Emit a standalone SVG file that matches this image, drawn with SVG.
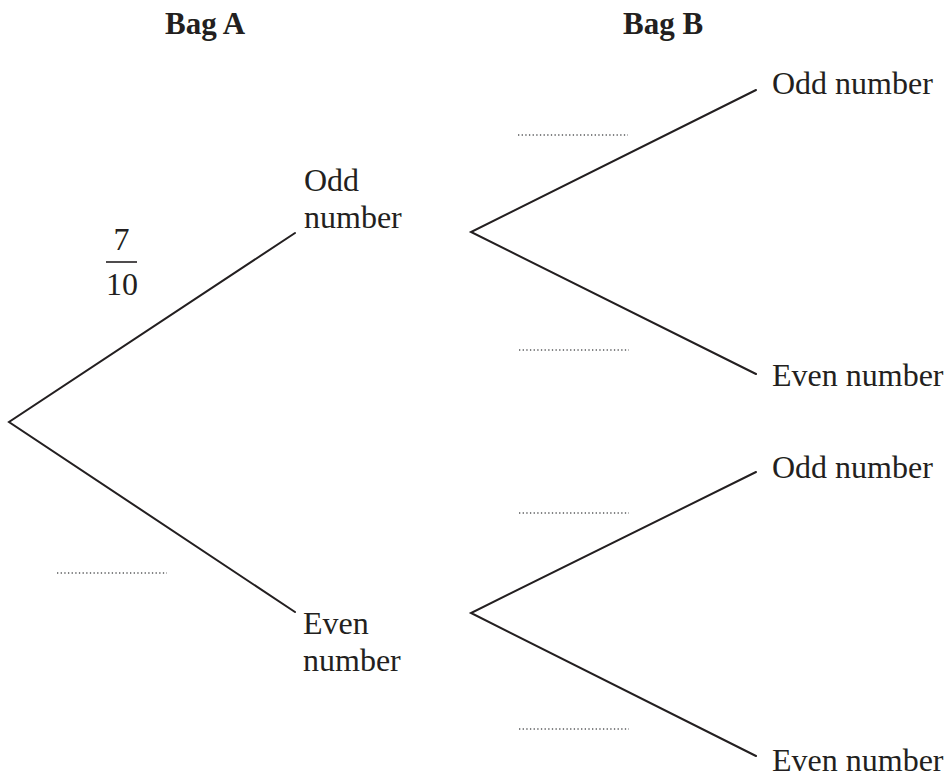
<svg xmlns="http://www.w3.org/2000/svg" width="951" height="780" viewBox="0 0 951 780">
<style>
  .lbl { font-family: "Liberation Serif", "Times New Roman", serif; font-size: 32px; fill: #231f20; }
  .hdr { font-family: "Liberation Serif", "Times New Roman", serif; font-size: 31px; font-weight: bold; fill: #231f20; }
  .br { stroke: #231f20; stroke-width: 2; fill: none; stroke-linecap: round; stroke-linejoin: miter; }
  .dots { stroke: #58595b; stroke-width: 1.5; stroke-dasharray: 1.3 2.35; fill: none; }
</style>
<rect width="951" height="780" fill="#ffffff"/>
<g id="headers">
  <text class="hdr" x="165" y="34">Bag A</text>
  <text class="hdr" x="623" y="34">Bag B</text>
</g>
<g id="connectors">
  <path class="br" d="M295,233 L9,422 L295,612"/>
  <path class="br" d="M756,90 L471,232 L756,374"/>
  <path class="br" d="M756,472 L471,613 L756,756"/>
</g>
<g id="node-a-odd">
  <text class="lbl" x="304" y="191">Odd</text>
  <text class="lbl" x="304" y="228">number</text>
</g>
<g id="node-a-even">
  <text class="lbl" x="303" y="634">Even</text>
  <text class="lbl" x="303" y="671">number</text>
</g>
<g id="node-b-odd-1"><text class="lbl" x="772" y="94">Odd number</text></g>
<g id="node-b-even-1"><text class="lbl" x="772" y="386">Even number</text></g>
<g id="node-b-odd-2"><text class="lbl" x="772" y="478">Odd number</text></g>
<g id="node-b-even-2"><text class="lbl" x="772" y="771">Even number</text></g>
<g id="prob-a-odd">
  <text class="lbl" x="121.5" y="250" text-anchor="middle">7</text>
  <line x1="106" y1="262" x2="137" y2="262" stroke="#231f20" stroke-width="1.6"/>
  <text class="lbl" x="122" y="295" text-anchor="middle">10</text>
</g>
<g id="blanks">
  <line class="dots" x1="57" y1="573" x2="167" y2="573"/>
  <line class="dots" x1="518" y1="135" x2="628" y2="135"/>
  <line class="dots" x1="519" y1="350" x2="629" y2="350"/>
  <line class="dots" x1="519" y1="513" x2="629" y2="513"/>
  <line class="dots" x1="519" y1="729" x2="629" y2="729"/>
</g>
</svg>
